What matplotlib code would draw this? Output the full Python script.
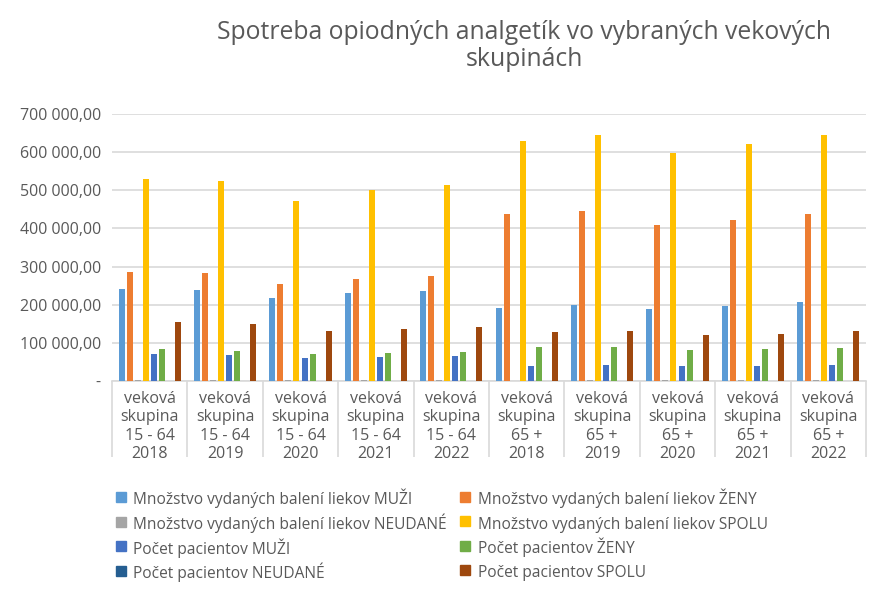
import matplotlib
matplotlib.use("Agg")
import matplotlib.pyplot as plt
from matplotlib.lines import Line2D
from matplotlib.ticker import FuncFormatter
import numpy as np

plt.rcParams['font.family'] = ['Open Sans', 'DejaVu Sans']

categories = [
    "veková\nskupina\n15 - 64\n2018", "veková\nskupina\n15 - 64\n2019",
    "veková\nskupina\n15 - 64\n2020", "veková\nskupina\n15 - 64\n2021",
    "veková\nskupina\n15 - 64\n2022", "veková\nskupina\n65 +\n2018",
    "veková\nskupina\n65 +\n2019", "veková\nskupina\n65 +\n2020",
    "veková\nskupina\n65 +\n2021", "veková\nskupina\n65 +\n2022",
]

balenia_muzi = [242000, 239000, 218000, 232000, 237000, 192000, 200000, 189000, 197000, 208000]
balenia_zeny = [287000, 284000, 253000, 268000, 276000, 437000, 447000, 408000, 421000, 437000]
balenia_neudane = [2000, 2000, 2000, 2000, 2000, 500, 2000, 2000, 2000, 2000]
balenia_spolu = [529000, 524000, 471000, 500000, 513000, 629000, 645000, 597000, 621000, 645000]
pacienti_muzi = [71000, 68000, 61000, 63000, 66000, 39000, 42000, 39000, 39000, 42000]
pacienti_zeny = [84000, 79000, 71000, 74000, 76000, 89000, 89000, 82000, 84000, 87000]
pacienti_neudane = [1000, 1000, 1000, 1000, 1000, 300, 1000, 1000, 1000, 1000]
pacienti_spolu = [155000, 150000, 132000, 137000, 142000, 129000, 132000, 121000, 124000, 132000]

series_names = [
    "Množstvo vydaných balení liekov MUŽI",
    "Množstvo vydaných balení liekov ŽENY",
    "Množstvo vydaných balení liekov NEUDANÉ",
    "Množstvo vydaných balení liekov SPOLU",
    "Počet pacientov MUŽI",
    "Počet pacientov ŽENY",
    "Počet pacientov NEUDANÉ",
    "Počet pacientov SPOLU",
]
series = [balenia_muzi, balenia_zeny, balenia_neudane, balenia_spolu,
          pacienti_muzi, pacienti_zeny, pacienti_neudane, pacienti_spolu]
colors = ["#5B9BD5", "#ED7D31", "#A5A5A5", "#FFC000",
          "#4472C4", "#70AD47", "#255E91", "#9E480E"]

fig = plt.figure(figsize=(8.84, 5.9), dpi=100)
ax = fig.add_axes([112/884, 1-381/590, (866-112)/884, (381-114)/590])

x = np.arange(len(categories))
pitch = 0.1067
width = 0.08
handles = []
for i, (vals, c, name) in enumerate(zip(series, colors, series_names)):
    off = (i - 3.5) * pitch
    ax.bar(x + off, vals, width=width, color=c, zorder=3)
    handles.append(Line2D([], [], marker='s', linestyle='none', markersize=6.5,
                          markerfacecolor=c, markeredgecolor=c, label=name))

ax.set_xlim(-0.5, len(categories) - 0.5)
ax.set_ylim(0, 700000)
ax.set_yticks(np.arange(0, 700001, 100000))

def fmt(v, pos):
    if v == 0:
        return "-"
    s = f"{v:,.2f}".replace(",", " ").replace(".", ",")
    return s
ax.yaxis.set_major_formatter(FuncFormatter(fmt))
ax.grid(axis='y', color='#d9d9d9', linewidth=1.2, zorder=0)
for s in ['top', 'right', 'left']:
    ax.spines[s].set_visible(False)
ax.spines['bottom'].set_color('#d9d9d9')
ax.spines['bottom'].set_linewidth(1.2)

ax.set_xticks(x)
ax.set_xticklabels(categories, fontsize=11.5, color='#595959', linespacing=1.21)
ax.set_xticks(np.arange(-0.5, len(categories)), minor=True)
ax.tick_params(axis='x', which='major', length=0, pad=7)
ax.tick_params(axis='x', which='minor', length=55, color='#d9d9d9', width=1.2)
ax.tick_params(axis='y', length=0, labelsize=11.5, labelcolor='#595959', pad=8)

fig.text(524/884, 1-20/590, "Spotreba opiodných analgetík vo vybraných vekových\nskupinách",
         ha='center', va='top', fontsize=17.8, color='#595959', linespacing=1.1)

order = [0, 2, 4, 6, 1, 3, 5, 7]
fig.legend([handles[i] for i in order], [series_names[i] for i in order],
           ncol=2, loc='upper left', bbox_to_anchor=(102/884, 1-475/590),
           frameon=False, fontsize=11.2, labelcolor='#595959',
           handlelength=0.6, handleheight=1.6, handletextpad=0.5,
           columnspacing=0.9, labelspacing=0.27)

fig.savefig("out.png", dpi=100)
